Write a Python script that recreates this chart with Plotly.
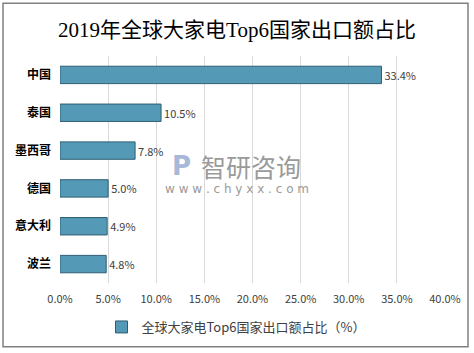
import plotly.graph_objects as go

countries = ["中国", "泰国", "墨西哥", "德国", "意大利", "波兰"]
shares = [33.4, 10.5, 7.8, 5.0, 4.9, 4.8]
labels = ["33.4%", "10.5%", "7.8%", "5.0%", "4.9%", "4.8%"]
series_name = "全球大家电Top6国家出口额占比（%）"
title_text = "2019年全球大家电Top6国家出口额占比"

W, H = 474, 353
L, R, T, B = 60, 29, 56, 69
pw, ph = W - L - R, H - T - B

def px(x):
    return (x - L) / pw

def py(y):
    return (H - B - y) / ph

fig = go.Figure()
fig.add_trace(go.Bar(
    y=countries, x=shares, orientation="h", name=series_name,
    text=labels, textposition="outside", cliponaxis=False,
    textfont=dict(family="Noto Sans CJK SC, Noto Sans", size=11, color="#404040"),
    marker=dict(color="#5499B6", line=dict(color="#2F5E72", width=1)),
    width=0.46,
))

fig.update_layout(
    width=W, height=H,
    margin=dict(l=L, r=R, t=T, b=B),
    paper_bgcolor="white", plot_bgcolor="white",
    title=dict(text=title_text, x=0.5, xanchor="center", y=1 - 30 / H, yanchor="middle",
               font=dict(family="Liberation Serif, Noto Sans CJK SC", size=21, color="black")),
    xaxis=dict(range=[0, 40], dtick=5, tickformat=".1f", ticksuffix="%",
               showgrid=True, gridcolor="#D9D9D9", gridwidth=1, zeroline=False,
               showline=False, ticks="", ticklabelstandoff=8,
               tickfont=dict(family="Noto Sans CJK SC, Noto Sans", size=11, color="#404040")),
    yaxis=dict(autorange="reversed", showgrid=False, showline=False, ticks="",
               ticklabelstandoff=8,
               tickfont=dict(family="Noto Sans CJK SC", size=12, color="black", weight="bold")),
    showlegend=True,
    legend=dict(orientation="h", x=px(236), xanchor="center", y=py(327), yanchor="middle",
                font=dict(family="Noto Sans CJK SC", size=13, color="#404040"),
                itemwidth=30),
    shapes=[dict(type="rect", xref="paper", yref="paper",
                 x0=px(3), x1=px(468), y0=py(348), y1=py(3),
                 line=dict(color="#808080", width=1.5), layer="above")],
    annotations=[
        dict(text="智研咨询", xref="paper", yref="paper", x=px(251), y=py(166),
             showarrow=False, font=dict(family="Noto Sans CJK SC", size=25, color="#9A9A9A"),
             xanchor="center", yanchor="middle"),
        dict(text="w w w . c h y x x . c o m", xref="paper", yref="paper", x=px(237), y=py(190),
             showarrow=False, font=dict(family="DejaVu Sans", size=12, color="#9A9A9A"),
             xanchor="center", yanchor="middle"),
        dict(text="<b>P</b>", xref="paper", yref="paper", x=px(181), y=py(166),
             showarrow=False, font=dict(family="DejaVu Sans", size=26, color="#A8B8D8"),
             xanchor="center", yanchor="middle"),
    ],
)

fig.write_html("out.html")
